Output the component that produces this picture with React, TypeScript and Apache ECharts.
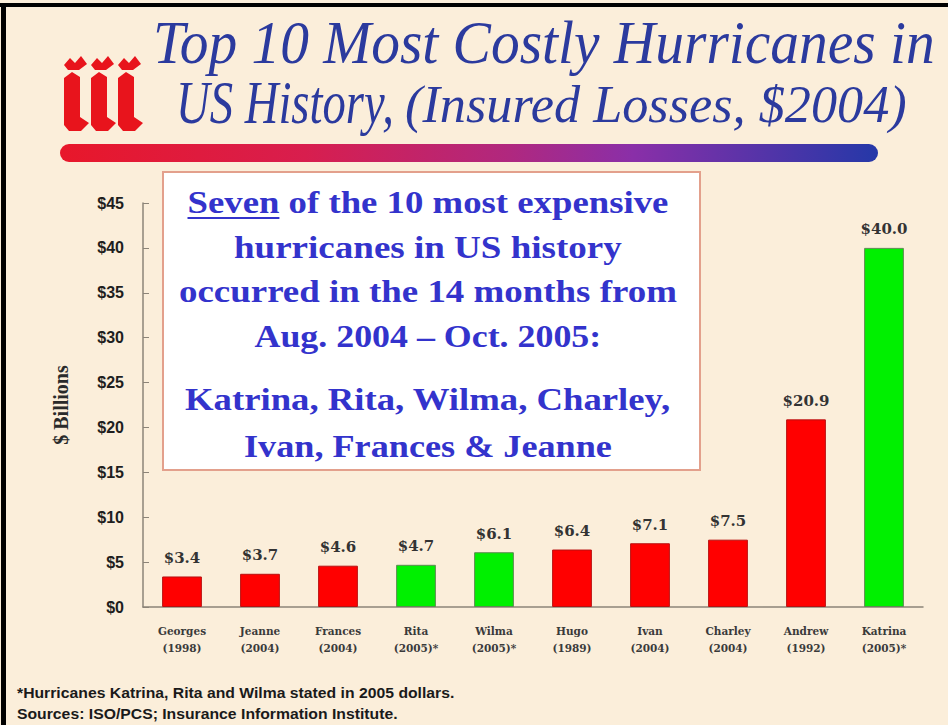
import React, { useEffect, useRef } from "react";
import * as echarts from "echarts";

const categories = [
  "Georges\n(1998)",
  "Jeanne\n(2004)",
  "Frances\n(2004)",
  "Rita\n(2005)*",
  "Wilma\n(2005)*",
  "Hugo\n(1989)",
  "Ivan\n(2004)",
  "Charley\n(2004)",
  "Andrew\n(1992)",
  "Katrina\n(2005)*",
];
const insuredLosses = [3.4, 3.7, 4.6, 4.7, 6.1, 6.4, 7.1, 7.5, 20.9, 40.0];
const statedIn2005Dollars = [false, false, false, true, true, false, false, false, false, true];
const yMin = 0;
const yMax = 45;
const yStep = 5;

const titleLine1 = "Top 10 Most Costly Hurricanes in";
const titleLine2a = "US History,";
const titleLine2b = "(Insured Losses, $2004)";
const boxLines = [
  "Seven of the 10 most expensive",
  "hurricanes in US history",
  "occurred in the 14 months from",
  "Aug. 2004 \u2013 Oct. 2005:",
  "Katrina, Rita, Wilma, Charley,",
  "Ivan, Frances & Jeanne",
];
const boxUnderlined = "Seven";
const footnotes = [
  "*Hurricanes Katrina, Rita and Wilma stated in 2005 dollars.",
  "Sources: ISO/PCS; Insurance Information Institute.",
];

export default function App() {
  const ref = useRef<HTMLDivElement>(null);

  useEffect(() => {
    const el = ref.current!;
    const chart = echarts.init(el, null, { renderer: "svg" });
    const ctx = document.createElement("canvas").getContext("2d")!;
    const measure = (t: string, font: string) => {
      ctx.font = font;
      return ctx.measureText(t).width;
    };
    const fitText = (
      text: string,
      font: string,
      x: number,
      y: number,
      targetW: number,
      fill: string,
      z = 10
    ) => {
      const w = measure(text, font);
      return {
        type: "text",
        x,
        y,
        scaleX: targetW / w,
        z,
        style: { text, font, fill, textAlign: "left", textVerticalAlign: "middle", verticalAlign: "middle" },
      };
    };

    const titleColor = "#2B3A9E";
    const boxColor = "#3333CC";
    const titleFont = "italic 62px 'Liberation Serif', 'Times New Roman', serif";
    const line2Font = "italic 62px 'Liberation Serif', 'Times New Roman', serif";
    const subFont = "italic 52px 'Liberation Serif', 'Times New Roman', serif";
    const boxFont = "bold 31px 'Liberation Serif', 'Times New Roman', serif";
    const footFont = "bold 14px 'Liberation Sans', Arial, sans-serif";

    const graphics: any[] = [];

    // frame
    graphics.push({ type: "rect", shape: { x: 0, y: 3, width: 948, height: 4 }, style: { fill: "#000" }, z: 20 });
    graphics.push({ type: "rect", shape: { x: 1, y: 3, width: 5, height: 722 }, style: { fill: "#000" }, z: 20 });

    // logo
    const logoRed = "#E8141C";
    [64, 91, 118].forEach((x0) => {
      const y0 = 55;
      const dot = [
        [0, 10], [6, 3], [11, 8], [17, 1], [23, 9], [15, 15], [4, 15],
      ].map(([a, b]) => [x0 + a, y0 + b]);
      const stem = [
        [0, 23], [8, 17], [16, 22], [16, 62], [25, 68], [17, 76], [5, 76], [0, 70],
      ].map(([a, b]) => [x0 + a, y0 + b]);
      graphics.push({ type: "polygon", shape: { points: dot }, style: { fill: logoRed }, z: 10 });
      graphics.push({ type: "polygon", shape: { points: stem }, style: { fill: logoRed }, z: 10 });
    });

    // title
    graphics.push(fitText(titleLine1, titleFont, 153, 42, 782, titleColor));
    graphics.push(fitText(titleLine2a, line2Font, 176, 102, 218, titleColor));
    graphics.push(fitText(titleLine2b, subFont, 405, 105, 502, titleColor));

    // gradient bar
    graphics.push({
      type: "rect",
      shape: { x: 60, y: 144, width: 818, height: 18, r: 9 },
      style: {
        fill: new echarts.graphic.LinearGradient(0, 0, 1, 0, [
          { offset: 0, color: "#E8172A" },
          { offset: 0.3, color: "#D81E4E" },
          { offset: 0.55, color: "#B0287F" },
          { offset: 0.7, color: "#8A2FA8" },
          { offset: 1, color: "#2538A8" },
        ]),
      },
      z: 10,
    });

    // text box
    graphics.push({
      type: "rect",
      shape: { x: 163, y: 172, width: 537, height: 298 },
      style: { fill: "#FFFFFF", stroke: "#E3A08C", lineWidth: 2 },
      z: 5,
    });
    const boxCx = 428;
    const boxYs = [203, 248, 292, 336, 400, 446];
    const boxWs = [481, 388, 498, 347, 486, 368];
    boxLines.forEach((line, i) => {
      const w = measure(line, boxFont);
      const s = boxWs[i] / w;
      const x = boxCx - boxWs[i] / 2;
      graphics.push({
        type: "text",
        x,
        y: boxYs[i],
        scaleX: s,
        z: 10,
        style: { text: line, font: boxFont, fill: boxColor, textAlign: "left", textVerticalAlign: "middle", verticalAlign: "middle" },
      });
      if (i === 0) {
        const uw = measure(boxUnderlined, boxFont) * s;
        graphics.push({
          type: "line",
          shape: { x1: x, y1: boxYs[i] + 15, x2: x + uw, y2: boxYs[i] + 15 },
          style: { stroke: boxColor, lineWidth: 2 },
          z: 10,
        });
      }
    });

    // footnotes
    const footScale = 438 / measure(footnotes[0], footFont);
    [693, 714].forEach((y, i) => {
      graphics.push({
        type: "text",
        x: 17,
        y,
        scaleX: footScale,
        z: 10,
        style: { text: footnotes[i], font: footFont, fill: "#1a1a1a", textAlign: "left", textVerticalAlign: "middle", verticalAlign: "middle" },
      });
    });

    const axisColor = "#8C8478";

    chart.setOption({
      animation: false,
      backgroundColor: "#FBEEDA",
      grid: { left: 143, right: 25, top: 203, bottom: 118 },
      xAxis: {
        type: "category",
        data: categories,
        axisLine: { lineStyle: { color: axisColor, width: 1.5 } },
        axisTick: { inside: true, length: 5, lineStyle: { color: axisColor } },
        axisLabel: {
          fontFamily: "'DejaVu Serif', serif",
          fontWeight: "bold",
          fontSize: 10.5,
          color: "#3a3a3a",
          lineHeight: 17,
          margin: 15,
        },
      },
      yAxis: {
        type: "value",
        min: yMin,
        max: yMax,
        interval: yStep,
        splitLine: { show: false },
        axisLine: { show: true, lineStyle: { color: axisColor, width: 1.5 } },
        axisTick: { show: true, inside: true, length: 6, lineStyle: { color: axisColor } },
        axisLabel: {
          formatter: (v: number) => "$" + v,
          fontFamily: "'Liberation Sans', Arial, sans-serif",
          fontWeight: "bold",
          fontSize: 16,
          color: "#1e1e1e",
          margin: 19,
        },
        name: "$ Billions",
        nameLocation: "middle",
        nameRotate: 90,
        nameGap: 72,
        nameTextStyle: {
          fontFamily: "'Liberation Serif', serif",
          fontWeight: "bold",
          fontSize: 20,
          color: "#2a2a2a",
        },
      },
      series: [
        {
          type: "bar",
          barWidth: "51%",
          data: insuredLosses.map((v, i) => ({
            value: v,
            itemStyle: {
              color: statedIn2005Dollars[i] ? "#00F000" : "#FF0000",
              borderColor: statedIn2005Dollars[i] ? "#5E8A52" : "#B81010",
              borderWidth: 1,
            },
          })),
          label: {
            show: true,
            position: "top",
            distance: 11,
            formatter: (p: any) => "$" + Number(p.value).toFixed(1),
            fontFamily: "'DejaVu Serif', serif",
            fontWeight: "bold",
            fontSize: 15,
            color: "#333",
          },
        },
      ],
      graphic: { elements: graphics },
    });

    return () => chart.dispose();
  }, []);

  return (
    <div
      ref={ref}
      style={{ position: "fixed", left: 0, top: 0, width: 948, height: 725 }}
    />
  );
}
